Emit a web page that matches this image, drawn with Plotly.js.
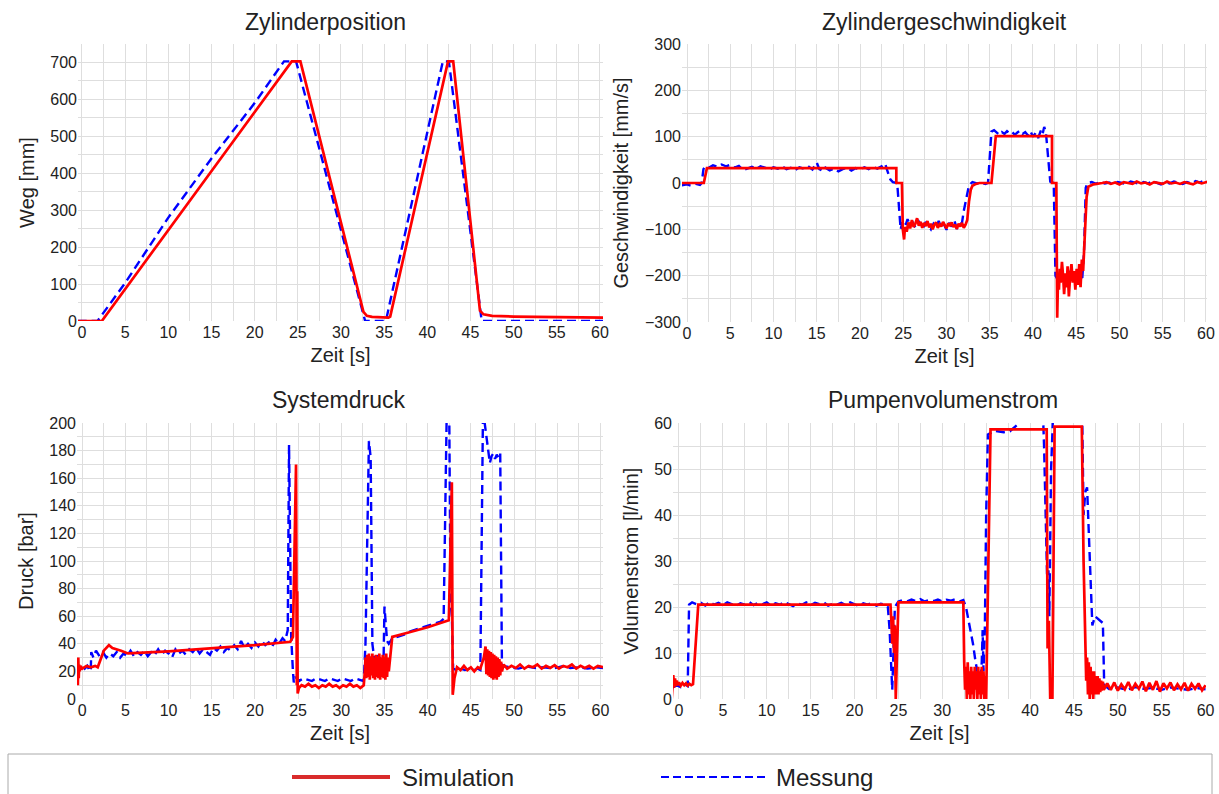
<!DOCTYPE html>
<html>
<head>
<meta charset="utf-8">
<script src="https://cdn.plot.ly/plotly-3.0.1.min.js"></script>
<style>html,body{margin:0;padding:0;background:#fff;}#chart{width:1219px;height:794px;}</style>
</head>
<body>
<div id="chart"></div>
<script>
// ---------- Zylinderposition ----------
const posTimeSim = [-0.5, 2.3, 24.3, 25.3, 32.6, 33.0, 33.6, 35.5, 35.7, 42.4, 43.0, 46.1, 46.5, 47.5, 50, 60.4];
const posSim     = [0, 0, 703, 703, 25, 14, 11, 9, 12, 703, 703, 28, 18, 14, 12, 9];
const posTimeMes = [-0.5, 1.8, 5, 10, 15, 20, 23.4, 24.8, 32.8, 35.2, 41.8, 42.5, 46.3, 60.4];
const posMes     = [0, 0, 103, 280, 440, 590, 703, 703, 0, 0, 703, 703, 0, 0];

// ---------- Zylindergeschwindigkeit ----------
const velTimeSim = [-0.6, 1.94, 2.3, 24.2, 24.2, 24.85, 24.95, 25.1,
  25.2, 25.4, 25.6, 25.8, 26.0, 26.2, 26.4, 26.6, 26.8, 27.0, 27.2, 27.4, 27.6, 27.8, 28.0, 28.2, 28.4, 28.6, 28.8, 29.0,
  29.2, 29.4, 29.6, 29.8, 30.0, 30.2, 30.4, 30.6, 30.8, 31.0, 31.2, 31.4, 31.6, 31.8, 32.0, 32.2, 32.4, 32.6, 32.8, 33.0,
  33.4, 33.8, 35.2, 35.7, 42.2, 42.2, 42.7, 42.8, 42.9,
  43.0, 43.1, 43.2, 43.35, 43.5, 43.6, 43.75, 43.9, 44.0, 44.15, 44.3, 44.45, 44.6, 44.75, 44.9, 45.05, 45.2, 45.35, 45.5,
  45.65, 45.8, 46.0, 46.2, 46.4, 47, 48,
  48.5, 49, 49.5, 50, 50.5, 51, 51.5, 52, 52.5, 53, 53.5, 54, 54.5, 55, 55.5, 56, 56.5, 57, 57.5, 58, 58.5, 59, 59.5, 60.2];
const velSim = [0, 0, 32, 32, 0, 0, -100, -122,
  -95, -105, -85, -98, -80, -95, -88, -76, -92, -84, -97, -86, -93, -82, -96, -88, -100, -90, -85, -97,
  -89, -94, -84, -92, -98, -87, -93, -85, -95, -90, -99, -88, -94, -86, -97, -90, -80, -40, -15, -6,
  -2, 0, 0, 101, 101, 0, 0, -291, -200,
  -230, -185, -215, -170, -205, -240, -195, -225, -180, -245, -200, -175, -215, -190, -230, -185, -220, -175, -225,
  -165, -190, -100, -30, -8, -3, 0,
  2, -2, 1, -3, 2, 0, -2, 3, -1, 1, -3, 2, 0, -2, 3, -1, 1, -2, 2, 0, -3, 2, -1, 3];
const velTimeMes = [-0.6, 0, 0.5, 1.0, 1.5, 1.7, 1.9, 2.1,
  2.5, 3.0, 3.5, 4.0, 4.5, 5.0, 5.5, 6.0, 6.5, 7.0, 7.5, 8.0, 8.5, 9.0, 9.5, 10.0, 10.5, 11.0, 11.5, 12.0, 12.5, 13.0,
  13.5, 14.0, 14.5, 15.0, 15.3, 15.7, 16.0, 16.5, 17.0, 17.5, 18.0, 18.5, 19.0, 19.5, 20.0, 20.5, 21.0, 21.5, 22.0,
  22.5, 22.9, 23.1, 23.5, 23.8, 24.3, 24.7,
  24.9, 25.2, 25.5, 25.8, 26.1, 26.4, 26.7, 27.0, 27.3, 27.6, 27.9, 28.2, 28.5, 28.8, 29.1, 29.4, 29.7, 30.0, 30.3,
  30.6, 30.9, 31.2, 31.5, 31.8, 32.0, 32.3, 32.6, 33.0, 33.5, 34.0, 34.5, 34.8, 35.2,
  35.5, 35.8, 36.1, 36.4, 36.7, 37.0, 37.3, 37.6, 37.9, 38.2, 38.5, 38.8, 39.1, 39.4, 39.7, 40.0, 40.3, 40.6, 40.9,
  41.1, 41.3, 41.5, 41.7, 42.0, 42.4, 42.6,
  42.9, 43.3, 43.7, 44.1, 44.5, 44.9, 45.3, 45.7, 45.9, 46.1, 46.3,
  46.8, 47.3, 47.8, 48.3, 48.8, 49.3, 49.8, 50.3, 50.8, 51.3, 51.8, 52.3, 52.8, 53.3, 53.8, 54.3, 54.8, 55.3, 55.8,
  56.3, 56.8, 57.3, 57.8, 58.3, 58.8, 59.3, 59.8, 60.2];
const velMes = [-5, -3, -6, -2, -4, 0, 30, 36,
  33, 38, 35, 40, 36, 39, 33, 37, 28, 31, 35, 30, 36, 33, 29, 34, 31, 36, 30, 33, 28, 34,
  31, 36, 29, 44, 30, 26, 33, 27, 31, 25, 30, 33, 27, 32, 29, 34, 30, 35, 31,
  36, 42, 30, 8, 2, 0, -100,
  -85, -95, -78, -92, -85, -96, -80, -90, -98, -84, -93, -100, -88, -95, -82, -97, -89, -101, -86,
  -94, -80, -99, -92, -85, -60, -30, -5, 2, -1, 1, -2, 0, 111,
  114, 108, 104, 110, 106, 112, 107, 110, 104, 109, 113, 106, 110, 103, 112, 100, 108, 97, 113,
  105, 121, 108, 60, 3, 0, -200,
  -210, -195, -205, -190, -210, -200, -195, -205, -150, -10, 0,
  2, -2, 3, -1, 1, -3, 2, 0, -2, 3, 1, -2, 2, -1, 4, 0, -3, 2, -1,
  3, 0, -2, 2, -1, 4, 1, 5, 2];

// ---------- Systemdruck ----------
const presTimeSim = [-0.6, -0.5, -0.45, -0.4, -0.35, -0.3, -0.2, 0, 0.5, 1.0, 1.5, 1.8, 2.5, 3.1, 3.5, 4.5, 5.3,
  10, 15, 20, 24.1, 24.4, 24.76, 24.85, 24.9, 24.95, 25.1,
  25.4, 25.8, 26.2, 26.6, 27.0, 27.4, 27.8, 28.2, 28.6, 29.0, 29.4, 29.8, 30.2, 30.6, 31.0, 31.4, 31.8, 32.2, 32.6, 32.75,
  32.8, 32.9, 33.0, 33.1, 33.2, 33.3, 33.4, 33.5, 33.6, 33.7, 33.8, 33.9, 34.0, 34.1, 34.2, 34.3, 34.4, 34.5, 34.6,
  34.7, 34.8, 34.9, 35.0, 35.1, 35.2, 35.3, 35.4, 35.5, 35.9,
  38, 40, 42.45, 42.8, 42.9, 43.1, 43.4, 43.8, 44.2, 44.6, 45.0, 45.4, 45.8, 46.1, 46.5, 46.7,
  46.8, 46.9, 47.0, 47.1, 47.2, 47.3, 47.4, 47.5, 47.6, 47.7, 47.8, 47.9, 48.0, 48.1, 48.2, 48.3, 48.4, 48.5, 48.6, 48.8,
  49.2, 49.7, 50.2, 50.7, 51.2, 51.7, 52.2, 52.7, 53.2, 53.7, 54.2, 54.7, 55.2, 55.7, 56.2, 56.7, 57.2, 57.7, 58.2,
  58.7, 59.2, 59.7, 60.3];
const presSim = [28, 10, 30, 15, 25, 20, 24, 22, 24, 23, 24, 23, 35, 39, 37, 35, 33,
  34.5, 36.5, 39, 41.5, 45, 170, 10, 78, 4, 8,
  10, 9, 11, 9, 10, 8, 10, 9, 11, 9, 10, 8, 10, 9, 11, 9, 10, 8, 10, 22,
  30, 15, 32, 16, 33, 14, 31, 17, 33, 15, 30, 14, 32, 16, 31, 15, 33, 14, 30,
  16, 32, 15, 31, 14, 33, 16, 30, 20, 45,
  48.5, 52, 57, 157, 3, 15, 23, 21, 24, 21, 23, 20, 23, 22, 30, 38,
  18, 36, 17, 35, 16, 34, 15, 33, 14, 32, 15, 31, 14, 30, 16, 29, 17, 27, 20, 25,
  22, 24, 22.5, 25, 22, 24, 23, 25, 22, 24, 22.5, 24.5, 22, 24, 23, 25, 22, 24, 22.5,
  24, 22, 24, 23];
const presTimeMes = [-0.6, -0.3, 0, 0.3, 0.6, 0.9, 1.0, 1.05,
  1.3, 1.6, 2.0, 2.4, 2.8, 3.2, 3.6, 4.0, 4.4, 4.8, 5.2, 5.6, 6.0, 6.4, 6.8, 7.2, 7.6, 8.0, 8.4, 8.8, 9.2, 9.6,
  10.0, 10.4, 10.8, 11.2, 11.6, 12.0, 12.4, 12.8, 13.2, 13.6, 14.0, 14.4, 14.8, 15.2, 15.6, 16.0, 16.4, 16.8, 17.2,
  17.6, 18.0, 18.4, 18.8, 19.2, 19.6, 20.0, 20.4, 20.8, 21.2, 21.6, 22.0, 22.4, 22.8, 23.2, 23.5, 23.8, 23.95,
  24.1, 24.2, 24.4, 24.5, 24.7,
  25.1, 25.6, 26.1, 26.6, 27.1, 27.6, 28.1, 28.6, 29.1, 29.6, 30.1, 30.6, 31.1, 31.6, 32.1, 32.6,
  32.8, 33.2, 33.4, 33.6, 33.8, 34.2, 34.6, 34.9, 35.0, 35.3, 35.5, 35.9,
  36.5, 37.0, 37.5, 38.0, 38.5, 39.0, 39.5, 40.0, 40.5, 41.0, 41.5, 41.85, 42.2, 42.5, 42.65, 42.8, 42.95,
  43.3, 43.8, 44.3, 44.8, 45.3, 45.8, 46.1, 46.4, 46.6, 46.8, 47.0, 47.2, 47.4, 47.6, 47.8, 48.0, 48.2, 48.4, 48.6,
  49.5, 50.5, 51.5, 52.5, 53.5, 54.5, 55.5, 56.5, 57.5, 58.5, 59.5, 60.3];
const presMes = [24, 21, 25, 22, 24, 20, 22, 34,
  30, 35, 31, 34, 30, 33, 31, 34, 30, 33, 31, 35, 31, 34, 32, 35, 31, 34, 32, 36, 32, 35,
  33, 30, 36, 33, 35, 32, 36, 34, 37, 33, 36, 34, 32, 37, 35, 38, 34, 37, 35,
  39, 36, 42, 37, 40, 37, 41, 38, 42, 39, 41, 38, 43, 40, 44, 42, 50, 184,
  100, 45, 20, 12, 16,
  13, 15, 14, 13, 15, 14, 13, 15, 14, 13, 15, 14, 13, 15, 14, 13,
  40, 187, 175, 40, 30, 31, 29, 31, 67, 42, 40, 44,
  45, 46, 47, 49, 50, 51, 52, 53, 54, 55, 56, 58, 205, 205, 70, 60, 22,
  21, 22, 21, 22, 21, 22, 21, 205, 200, 191, 179, 171, 176, 178, 174, 177, 175, 178, 24,
  23, 22, 23.5, 22.5, 23, 22, 23.5, 22.5, 23, 22, 23, 22.5];

// ---------- Pumpenvolumenstrom ----------
const flowTimeSim = [-0.83, -0.65, -0.55, -0.45, -0.35, -0.25, -0.15, 0, 0.2, 0.4, 0.6, 0.8, 1.0, 1.2, 1.4, 1.6, 2.2,
  24.1, 24.2, 24.3, 24.4, 24.5, 24.6, 24.7, 25.0, 32.4, 32.5,
  32.6, 32.7, 32.8, 32.9, 33.0, 33.1, 33.2, 33.3, 33.4, 33.5, 33.6, 33.7, 33.8, 33.9, 34.0, 34.1, 34.2, 34.3, 34.4,
  34.5, 34.6, 34.7, 34.8, 34.9, 35.0, 35.5, 41.9, 42.0, 42.15, 42.3, 42.55, 42.8, 45.9, 46.1, 46.3,
  46.4, 46.5, 46.6, 46.7, 46.8, 46.9, 47.0, 47.1, 47.2, 47.3, 47.4, 47.5, 47.6, 47.7, 47.8, 47.9, 48.0, 48.1, 48.2,
  48.3, 48.4,
  48.8, 49.2, 49.6, 50.0, 50.4, 50.8, 51.2, 51.6, 52.0, 52.4, 52.8, 53.2, 53.6, 54.0, 54.4, 54.8, 55.2, 55.6, 56.0,
  56.4, 56.8, 57.2, 57.6, 58.0, 58.4, 58.8, 59.2, 59.6, 60.0];
const flowSim = [0, 5.2, 2.5, 4.5, 2.8, 4, 3, 3.6, 2.9, 3.5, 3, 3.4, 2.9, 3.3, 3, 3.2, 20.5,
  20.5, 17, 12, 18, 10, 16, 0, 21, 21, 8,
  2, 7, 0, 8, 1, 6, 0, 7, 1, 6, 0, 7, 2, 6, 0, 7, 1, 6, 0,
  7, 1, 6, 0, 5, 0, 58.6, 58.6, 11, 17, 0, 0, 59.2, 59.2, 30, 12,
  4, 9, 1, 8, 0, 7, 1, 6, 0, 6, 1, 5, 1, 5, 1, 4.5, 1.5, 4, 1.8,
  3.8, 2,
  3.4, 2, 3.6, 1.8, 3.2, 2.1, 3.7, 1.9, 3.3, 2.2, 3.8, 1.7, 3.5, 2.0, 3.9, 1.6, 3.4, 2.3, 3.6,
  1.9, 3.2, 2.1, 3.5, 1.8, 3.3, 2.2, 3.4, 1.9, 3.0];
const flowTimeMes = [-0.7, -0.3, 0.2, 0.6, 1.0, 1.15,
  1.5, 2.0, 2.5, 3.0, 3.5, 4.0, 4.5, 5.0, 5.5, 6.0, 6.5, 7.0, 7.5, 8.0, 8.5, 9.0, 9.5, 10.0, 10.5, 11.0, 11.5, 12.0,
  12.5, 13.0, 13.5, 14.0, 14.5, 15.0, 15.5, 16.0, 16.5, 17.0, 17.5, 18.0, 18.5, 19.0, 19.5, 20.0, 20.5, 21.0, 21.5,
  22.0, 22.5, 23.0, 23.5, 23.8, 24.0, 24.3, 24.6, 25.0,
  25.5, 26.0, 26.5, 27.0, 27.5, 28.0, 28.5, 29.0, 29.5, 30.0, 30.5, 31.0, 31.5, 32.0, 32.4, 32.7, 33.2, 33.5, 33.8,
  34.1, 34.3, 34.5, 34.6, 34.7, 34.85, 35.0, 35.2, 36, 37, 37.7, 38.5, 39.1, 40, 41.5, 41.6, 41.8, 42.0, 42.1, 42.2,
  42.3, 42.4, 42.6, 45.95, 46.1, 46.3, 46.5, 46.65, 46.9, 47.1, 47.4, 47.7, 48.0, 48.3, 48.45,
  49.0, 50, 51, 52, 53, 54, 55, 56, 57, 58, 59, 60];
const flowMes = [2.5, 3, 2.6, 3.2, 2.8, 20.5,
  21, 20.6, 20.9, 20.3, 21.1, 20.5, 20.9, 20.4, 21.0, 20.6, 20.2, 20.8, 20.5, 21.1, 20.4, 20.9, 20.6, 21.0, 20.3, 20.8,
  20.5, 21.1, 20.6, 20.2, 20.8, 20.5, 21.0, 20.4, 20.9, 20.6, 21.0, 20.3, 20.7, 20.5, 20.9, 20.4, 21.0, 20.6, 20.2,
  20.8, 20.5, 20.9, 20.3, 20.7, 20.5, 20, 15, 2, 20, 21.2,
  21.5, 21.2, 21.6, 21.3, 21.7, 21.2, 21.5, 21.3, 21.6, 21.2, 21.6, 21.4, 21.7, 21.2, 21.5, 20, 15, 12, 8,
  5, 3, 8, 15, 6, 15, 40, 57.5, 58.3, 58, 58.2, 59.5, 60.5, 60.5, 60.5, 55, 35, 22, 28, 18,
  35, 50, 60.5, 60.5, 40, 45, 46, 38, 24, 16, 18, 17.5, 17, 16.5, 3,
  2.2, 2.5, 2.0, 2.6, 2.2, 2.4, 2.0, 2.5, 2.3, 2.0, 2.4, 2.1];

// ---------- Styling ----------
const RED = '#ff0000';
const BLUE = '#0000ff';
const FONT = 'Liberation Sans, Arial, sans-serif';
const GRID = '#dedede';

function mes(x, y, n) {
  return {x: x, y: y, xaxis: 'x' + n, yaxis: 'y' + n, type: 'scatter', mode: 'lines', name: 'Messung',
    line: {color: BLUE, width: 2.4, dash: '9px,5px'}, hoverinfo: 'skip', showlegend: false};
}
function sim(x, y, n) {
  return {x: x, y: y, xaxis: 'x' + n, yaxis: 'y' + n, type: 'scatter', mode: 'lines', name: 'Simulation',
    line: {color: RED, width: 2.7}, hoverinfo: 'skip', showlegend: false};
}

const data = [
  mes(posTimeMes, posMes, ''), sim(posTimeSim, posSim, ''),
  mes(velTimeMes, velMes, '2'), sim(velTimeSim, velSim, '2'),
  mes(presTimeMes, presMes, '3'), sim(presTimeSim, presSim, '3'),
  mes(flowTimeMes, flowMes, '4'), sim(flowTimeSim, flowSim, '4')
];

function xax(domain, range, anchor) {
  return {domain: domain, range: range, anchor: anchor, dtick: 5, tick0: 0, ticks: '', showline: false,
    zeroline: false, showgrid: true, gridcolor: GRID, gridwidth: 1,
    minor: {dtick: 2.5, tick0: 0, showgrid: true, gridcolor: GRID, gridwidth: 1},
    tickfont: {family: FONT, size: 16, color: '#222'},
    title: {text: 'Zeit [s]', font: {family: FONT, size: 20, color: '#222'}, standoff: 7}};
}
function yax(domain, range, anchor, dtick, mdtick, title) {
  return {domain: domain, range: range, anchor: anchor, dtick: dtick, ticks: '', showline: false,
    zeroline: false, showgrid: true, gridcolor: GRID, gridwidth: 1,
    minor: {dtick: mdtick, showgrid: true, gridcolor: GRID, gridwidth: 1},
    tickfont: {family: FONT, size: 16, color: '#222'},
    title: {text: title, font: {family: FONT, size: 20, color: '#222'}, standoff: 10}};
}

const W = 1219, H = 794;
const px = v => v / W;
const py = v => 1 - v / H;

const layout = {
  width: W, height: H,
  margin: {l: 0, r: 0, t: 0, b: 0},
  paper_bgcolor: '#fff', plot_bgcolor: '#fff',
  font: {family: FONT, color: '#222'},
  showlegend: false,
  xaxis:  xax([px(78), px(603)], [-0.46, 60.35], 'y'),
  yaxis:  yax([py(321), py(44)], [0, 750], 'x', 100, 50, 'Weg [mm]'),
  xaxis2: xax([px(682), px(1207)], [-0.58, 60.12], 'y2'),
  yaxis2: yax([py(322), py(44)], [-300, 300], 'x2', 100, 50, 'Geschwindigkeit [mm/s]'),
  xaxis3: xax([px(77), px(603)], [-0.6, 60.3], 'y3'),
  yaxis3: yax([py(699), py(423)], [0, 200], 'x3', 20, 10, 'Druck [bar]'),
  xaxis4: xax([px(673), px(1206)], [-0.68, 60.05], 'y4'),
  yaxis4: yax([py(699), py(423)], [0, 60], 'x4', 10, 5, 'Volumenstrom [l/min]'),
  annotations: [
    {text: 'Zylinderposition', x: px(325), y: py(22)},
    {text: 'Zylindergeschwindigkeit', x: px(944), y: py(22)},
    {text: 'Systemdruck', x: px(338), y: py(400)},
    {text: 'Pumpenvolumenstrom', x: px(943), y: py(400)}
  ].map(a => Object.assign({xref: 'paper', yref: 'paper', xanchor: 'center', yanchor: 'middle', showarrow: false,
    font: {family: FONT, size: 23, color: '#222'}}, a)).concat([
    {text: 'Simulation', x: px(400), y: py(777), xref: 'paper', yref: 'paper', xanchor: 'left', yanchor: 'middle',
      showarrow: false, font: {family: FONT, size: 24, color: '#222'}},
    {text: 'Messung', x: px(774), y: py(777), xref: 'paper', yref: 'paper', xanchor: 'left', yanchor: 'middle',
      showarrow: false, font: {family: FONT, size: 24, color: '#222'}}
  ]),
  shapes: [
    {type: 'rect', xref: 'paper', yref: 'paper', x0: px(8), x1: px(1212), y0: py(800), y1: py(754),
      line: {color: '#aaaaaa', width: 1}, fillcolor: 'rgba(0,0,0,0)'},
    {type: 'line', xref: 'paper', yref: 'paper', x0: px(292), x1: px(390), y0: py(777), y1: py(777),
      line: {color: '#d92b2b', width: 4}},
    {type: 'line', xref: 'paper', yref: 'paper', x0: px(661), x1: px(766), y0: py(777), y1: py(777),
      line: {color: BLUE, width: 2, dash: '8px,4px'}}
  ]
};

Plotly.newPlot('chart', data, layout, {staticPlot: true, displayModeBar: false});
</script>
</body>
</html>
